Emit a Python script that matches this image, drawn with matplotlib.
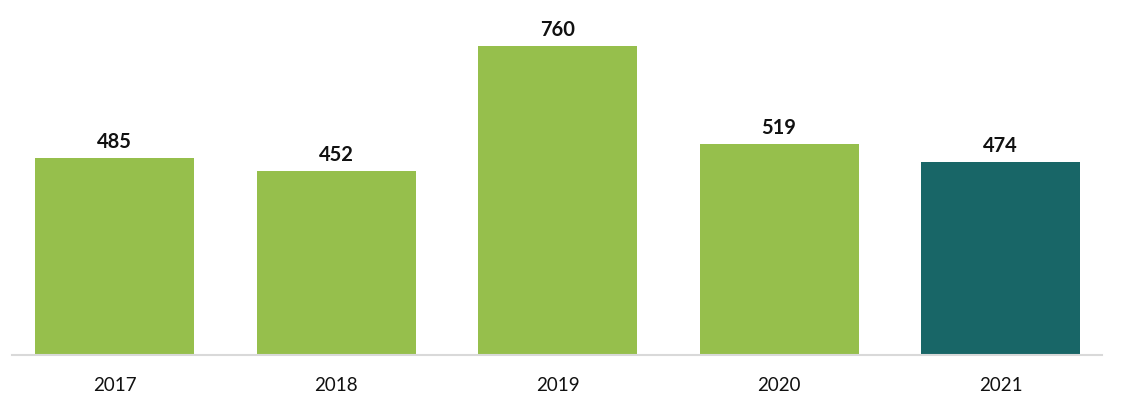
import matplotlib
matplotlib.use("Agg")
import matplotlib.pyplot as plt
import numpy as np

years = ["2017", "2018", "2019", "2020", "2021"]
values = [485, 452, 760, 519, 474]
colors = ["#96bf4c", "#96bf4c", "#96bf4c", "#96bf4c", "#186667"]

plt.rcParams['font.family'] = ['Lato', 'DejaVu Sans']

fig = plt.figure(figsize=(11.3, 4.06), dpi=100)
ax = fig.add_axes([12 / 1130, 50 / 406, 1090 / 1130, 346 / 406])

x = np.arange(len(years))
bars = ax.bar(x, values, width=0.718, color=colors)

for rect, v in zip(bars, values):
    ax.annotate(str(v), (rect.get_x() + rect.get_width() / 2, v),
                xytext=(0, 5), textcoords="offset points",
                ha="center", va="bottom", fontsize=14.5, fontweight="bold",
                color="#111111")

ax.set_xlim(-0.463, 4.458)
ax.set_ylim(0, 851)
ax.set_xticks(x)
ax.set_xticklabels(years, fontsize=13.5, color="#111111")
ax.tick_params(axis="x", length=0, pad=15)
ax.set_yticks([])

for s in ["top", "right", "left"]:
    ax.spines[s].set_visible(False)
ax.spines["bottom"].set_color("#d9d9d9")
ax.spines["bottom"].set_linewidth(1.5)

fig.savefig("out.png", dpi=100)
